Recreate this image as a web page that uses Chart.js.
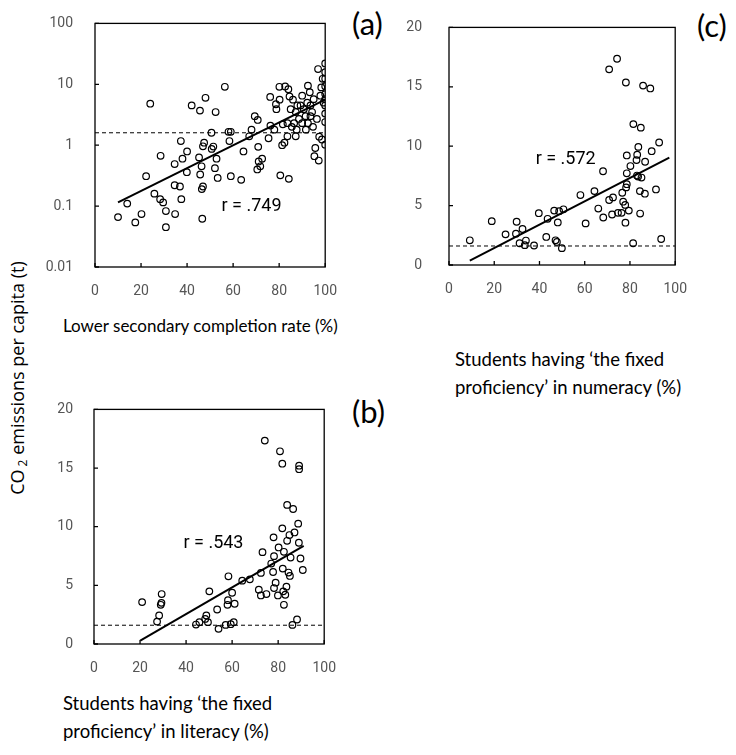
<!DOCTYPE html>
<html>
<head>
<meta charset="utf-8">
<script src="https://cdn.jsdelivr.net/npm/chart.js@4.4.1/dist/chart.umd.min.js"></script>
<style>
  body { margin: 0; background: #fff; width: 736px; height: 755px; position: relative; overflow: hidden; }
  .panel { position: absolute; }
  .panel canvas { display: block; }
  .txt { position: absolute; font-family: Lato, 'Open Sans', sans-serif; color: #000; white-space: nowrap; }
  .xtitle { font-size: 18.5px; line-height: 28px; }
  .tag { font-family: Lato, sans-serif; font-size: 31px; line-height: 38px; }
  #ytitle { font-family: 'Open Sans', sans-serif; font-size: 18px; left: 18px; top: 378px; transform: translate(-50%, -50%) rotate(-90deg); }
  #ytitle sub { font-size: 12px; vertical-align: -3px; margin-left: 3px; }
</style>
</head>
<body>

<div class="panel" style="left:45px; top:1px;"><canvas id="chartA" width="300" height="302"></canvas></div>
<div class="panel" style="left:395px; top:0px;"><canvas id="chartC" width="300" height="301"></canvas></div>
<div class="panel" style="left:44px; top:388px;"><canvas id="chartB" width="300" height="292"></canvas></div>

<div class="txt tag" style="left:352px; top:4px;">(a)</div>
<div class="txt tag" style="left:697px; top:6px;">(c)</div>
<div class="txt tag" style="left:352px; top:392px;">(b)</div>

<div class="txt xtitle" style="left:63px; top:312px; font-size:17px;">Lower secondary completion rate (%)</div>
<div class="txt xtitle" style="left:455px; top:345px;">Students having ‘the fixed<br>proficiency’ in numeracy (%)</div>
<div class="txt xtitle" style="left:63px; top:689px;">Students having ‘the fixed<br>proficiency’ in literacy (%)</div>

<div class="txt" id="ytitle">CO<sub>2</sub> emissions per capita (t)</div>

<script>
// (a) lower secondary completion rate vs CO2 (log scale)
const completionX = [10, 14, 17.5, 20.2, 22.2, 24, 25.8, 28.5, 28.3, 29.6, 30.8, 30.8, 34.6, 34.6, 34.8, 36.9,
  37.3, 37.5, 38, 40, 39.9, 42, 45.6, 48, 45.2, 45.7, 46.3, 46.9, 47.4, 46.9, 46.4, 46.6, 50.7, 51.4, 50.6,
  52.4, 52.8, 52.1, 53.3, 56.4, 58, 59, 58.4, 59, 63.5, 64.5, 67, 68, 69.4, 70.7, 70.9, 70.5, 71.1, 71.8,
  72.6, 75.4, 76.1, 76.2, 77.9, 78.6, 78.8, 80.2, 80.1, 80.5, 81.3, 82.3, 82.6, 84, 84.2, 84.5, 81.6, 83.6,
  85, 86, 85.5, 86.5, 87.2, 87.6, 88.6, 89.3, 90, 90.7, 91.6, 92.5, 92.5, 93.3, 93.6, 94.3, 94.7, 95.7,
  95.3, 97.2, 96.9, 97.4, 98.6, 97.9, 98.3, 98.9, 100, 100, 100, 100, 100, 100, 100, 100, 100, 100,
  99.3, 96.4, 95, 92.2, 91.5, 87.9, 90, 83.6, 87.2, 93.6];
const completionY = [0.066, 0.11, 0.054, 0.074, 0.31, 4.8, 0.16, 0.67, 0.13, 0.115, 0.083, 0.045, 0.49, 0.22, 0.074, 0.21,
  1.17, 0.13, 0.6, 0.79, 0.36, 4.5, 3.7, 6.0, 0.63, 0.33, 0.45, 0.96, 1.1, 0.21, 0.19, 0.062, 0.87, 0.95, 1.6,
  3.5, 0.6, 0.42, 0.29, 9.1, 1.66, 1.66, 1.17, 0.31, 0.27, 0.79, 1.4, 1.8, 3.0, 2.6, 0.94, 0.40, 0.54, 0.45,
  0.6, 1.3, 6.2, 2.1, 1.8, 4.7, 3.9, 5.6, 9.1, 0.32, 1.0, 1.1, 9.2, 8.3, 0.28, 6.3, 2.2, 1.4,
  3.9, 5.6, 2.0, 2.3, 3.5, 1.8, 2.7, 4.5, 6.5, 3.9, 1.8, 9.5, 2.3, 7.4, 4.5, 3.5, 2.0, 0.9,
  0.66, 0.56, 17.8, 1.38, 1.24, 6.5, 8.9, 12.3, 22, 15.8, 12.3, 9.3, 6.9, 5.7, 4.5, 3.3, 2.4, 1.02,
  5.0, 2.7, 5.7, 5.0, 3.0, 4.5, 2.3, 2.3, 1.4, 3.0];
const completionFitX = [10, 100];
const completionFitY = [0.115, 5.6];
const completionTicks = [0.01, 0.1, 1, 10, 100];

// (c) numeracy proficiency vs CO2
const numeracyX = [9.2, 18.9, 25, 29.9, 29.6, 32.5, 31.2, 34, 33.5, 37.6, 39.7, 43.6, 43, 46.5, 48.7, 50.6,
  48.1, 47.1, 47.7, 49.9, 58.1, 60.4, 64.3, 66, 68.1, 68.2, 70.8, 74.3, 78.2, 85.8, 89, 70.8, 72.5, 72.1,
  74.7, 76.3, 76.6, 77, 77.9, 78, 78.3, 78.6, 78.6, 78.6, 79.5, 80.2, 81.4, 81.5, 82.9, 83.2, 83.7, 83.1,
  83.6, 84.5, 84.4, 84.8, 85.1, 86.6, 86.7, 89.6, 91.5, 92.9, 93.8];
const numeracyY = [2.08, 3.69, 2.58, 3.64, 2.64, 3.03, 1.83, 2.06, 1.67, 1.64, 4.36, 3.89, 2.36, 4.58, 4.53, 4.69,
  3.58, 2.08, 1.94, 1.42, 5.89, 3.5, 6.22, 4.75, 7.89, 4.0, 16.47, 17.36, 15.36, 15.1, 14.86, 5.47, 5.69, 4.25,
  4.39, 4.39, 6.08, 5.33, 5.06, 3.56, 6.53, 6.8, 7.72, 9.22, 4.58, 8.33, 1.83, 11.86, 8.83, 9.28, 9.94, 7.53,
  7.44, 4.33, 6.22, 11.56, 7.36, 6.0, 8.69, 9.58, 6.36, 10.31, 2.19];
const numeracyFitX = [9.2, 97.4];
const numeracyFitY = [0.36, 9.03];

// (b) literacy proficiency vs CO2
const literacyX = [20.9, 27.4, 28.3, 29, 29.4, 29.3, 44.3, 45.8, 48.3, 48.8, 49.5, 50.1, 53.5, 54.1, 57.2, 58.4,
  58, 58.2, 59.4, 60, 60.7, 61.1, 64.4, 67.7, 71.6, 72.5, 72.5, 73.2, 74.2, 74.9, 77, 77.8, 78, 78.2, 78.2,
  78.9, 79.9, 80.2, 80.8, 81.8, 81.8, 82, 82.5, 82.2, 82.5, 83.1, 83.6, 83.9, 83.9, 84.9, 84.5, 85.1, 85.4,
  86.2, 86.5, 87.1, 88.2, 88.7, 89.1, 89.1, 89, 89.7, 90.7];
const literacyY = [3.57, 1.91, 2.43, 3.34, 4.26, 3.51, 1.66, 1.86, 2.14, 2.43, 1.86, 4.49, 2.94, 1.29, 1.63, 5.77,
  3.34, 3.74, 1.69, 4.37, 1.86, 3.43, 5.4, 5.51, 4.63, 6.06, 4.14, 7.83, 17.34, 4.26, 6.86, 6.14, 9.09, 7.49, 4.77,
  5.23, 4.14, 8.23, 16.43, 15.37, 9.86, 6.43, 7.86, 4.49, 3.34, 4.2, 4.89, 11.86, 8.8, 9.29, 6.09, 5.8, 7.37,
  1.63, 11.51, 9.51, 2.09, 10.26, 15.2, 14.9, 8.63, 7.29, 6.31];
const literacyFitX = [20.1, 91.1];
const literacyFitY = [0.29, 8.37];

const thresholdY = 1.6;
const xRange = [0, 100];

const tickFamily = "Roboto, 'Liberation Sans', sans-serif";

// box round the plot, small inward ticks and the r label
const framePlugin = {
    id: 'frame',
    afterDraw(chart, args, opts) {
        const { ctx, chartArea: a, scales } = chart;
        ctx.save();
        ctx.strokeStyle = '#000';
        ctx.lineWidth = 1.3;
        ctx.strokeRect(a.left, a.top, a.right - a.left, a.bottom - a.top);
        ctx.beginPath();
        scales.x.ticks.forEach(t => {
            const px = scales.x.getPixelForValue(t.value);
            ctx.moveTo(px, a.bottom);
            ctx.lineTo(px, a.bottom - 4);
        });
        scales.y.ticks.forEach(t => {
            const py = scales.y.getPixelForValue(t.value);
            ctx.moveTo(a.left, py);
            ctx.lineTo(a.left + 4, py);
        });
        ctx.stroke();
        ctx.font = '18px ' + tickFamily;
        ctx.fillStyle = '#000';
        ctx.textAlign = 'center';
        ctx.textBaseline = 'middle';
        ctx.fillText(opts.text, scales.x.getPixelForValue(opts.x), scales.y.getPixelForValue(opts.y));
        ctx.restore();
    }
};

function toPoints(xs, ys) {
    return xs.map((x, i) => ({ x: x, y: ys[i] }));
}

function makePanel(id, cfg) {
    const tickFont = { family: tickFamily, size: 14 };
    const yScale = {
        min: cfg.yMin, max: cfg.yMax,
        grid: { display: false }, border: { display: false },
        ticks: { font: tickFont, color: '#555', padding: cfg.yPad },
        afterFit: s => { s.width = cfg.yWidth; }
    };
    if (cfg.log) {
        yScale.type = 'logarithmic';
        yScale.afterBuildTicks = s => { s.ticks = completionTicks.map(v => ({ value: v })); };
        yScale.ticks.callback = v => String(v);
    } else {
        yScale.type = 'linear';
        yScale.ticks.stepSize = 5;
    }

    new Chart(document.getElementById(id), {
        type: 'scatter',
        data: {
            datasets: [{
                data: toPoints(cfg.xs, cfg.ys),
                pointRadius: 3.3,
                pointBorderWidth: 1.2,
                pointBorderColor: '#000',
                pointBackgroundColor: 'rgba(0,0,0,0)'
            }, {
                data: toPoints(cfg.fitX, cfg.fitY),
                showLine: true,
                pointRadius: 0,
                borderColor: '#000',
                borderWidth: 2
            }, {
                data: toPoints(xRange, [thresholdY, thresholdY]),
                showLine: true,
                pointRadius: 0,
                borderColor: '#000',
                borderWidth: 1,
                borderDash: [4, 3]
            }]
        },
        options: {
            responsive: false,
            animation: false,
            events: [],
            layout: { padding: { top: 10, right: cfg.rightPad, left: 0, bottom: 0 } },
            scales: {
                x: {
                    type: 'linear', min: 0, max: 100,
                    grid: { display: false }, border: { display: false },
                    ticks: { stepSize: 20, font: tickFont, color: '#555', padding: 8 },
                    afterFit: s => { s.height = 36; }
                },
                y: yScale
            },
            plugins: {
                legend: { display: false },
                tooltip: { enabled: false },
                frame: { text: cfg.rText, x: cfg.rX, y: cfg.rY }
            }
        },
        plugins: [framePlugin]
    });
}

makePanel('chartA', {
    xs: completionX, ys: completionY, fitX: completionFitX, fitY: completionFitY,
    log: true, yMin: 0.01, yMax: 100, yWidth: 50, yPad: 14, rightPad: 17,
    rText: 'r = .749', rX: 68, rY: 0.1
});
makePanel('chartC', {
    xs: numeracyX, ys: numeracyY, fitX: numeracyFitX, fitY: numeracyFitY,
    log: false, yMin: 0, yMax: 20, yWidth: 54, yPad: 19, rightPad: 15,
    rText: 'r = .572', rX: 51.6, rY: 8.9
});
makePanel('chartB', {
    xs: literacyX, ys: literacyY, fitX: literacyFitX, fitY: literacyFitY,
    log: false, yMin: 0, yMax: 20, yWidth: 50, yPad: 13, rightPad: 17,
    rText: 'r = .543', rX: 51.9, rY: 8.6
});
</script>
</body>
</html>
